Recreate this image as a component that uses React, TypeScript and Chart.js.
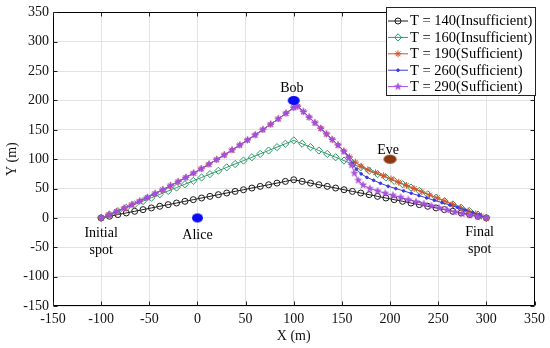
import React, { useEffect, useRef } from 'react';
import { Chart, registerables } from 'chart.js';
import { drawPoint } from 'chart.js/helpers';

Chart.register(...registerables);

// ---------------- data ----------------
const seriesLabels = [
  'T = 140(Insufficient)',
  'T = 160(Insufficient)',
  'T = 190(Sufficient)',
  'T = 260(Sufficient)',
  'T = 290(Sufficient)',
];

const t140X = [-100, -91.3, -82.6, -73.9, -65.2, -56.5, -47.8, -39.1, -30.4, -21.7, -13.0, -4.3, 4.3, 13.0, 21.7, 30.4, 39.1, 47.8, 56.5, 65.2, 73.9, 82.6, 91.3, 100,
  108.7, 117.4, 126.1, 134.8, 143.5, 152.2, 160.9, 169.6, 178.3, 187.0, 195.7, 204.3, 213.0, 221.7, 230.4, 239.1, 247.8, 256.5, 265.2, 273.9, 282.6, 291.3, 300];
const t140Y = [0, 2.8, 5.7, 8.5, 11.3, 14.1, 17.0, 19.8, 22.6, 25.4, 28.3, 31.1, 33.9, 36.7, 39.6, 42.4, 45.2, 48.0, 50.9, 53.7, 56.5, 59.3, 62.2, 65.0,
  62.2, 59.3, 56.5, 53.7, 50.9, 48.0, 45.2, 42.4, 39.6, 36.7, 33.9, 31.1, 28.3, 25.4, 22.6, 19.8, 17.0, 14.1, 11.3, 8.5, 5.7, 2.8, 0];

const t160X = [-100, -91.3, -82.6, -73.9, -65.2, -56.5, -47.8, -39.1, -30.4, -21.7, -13.0, -4.3, 4.3, 13.0, 21.7, 30.4, 39.1, 47.8, 56.5, 65.2, 73.9, 82.6, 91.3, 100,
  108.7, 117.4, 126.1, 134.8, 143.5, 152.2, 160.9, 169.6, 178.3, 187.0, 195.7, 204.3, 213.0, 221.7, 230.4, 239.1, 247.8, 256.5, 265.2, 273.9, 282.6, 291.3, 300];
const t160Y = [0, 5.7, 11.5, 17.2, 23.0, 28.7, 34.4, 40.2, 45.9, 51.7, 57.4, 63.1, 68.9, 74.6, 80.3, 86.1, 91.8, 97.6, 103.3, 109.0, 114.8, 120.5, 126.3, 132.0,
  126.3, 120.5, 114.8, 109.0, 103.3, 97.6, 91.8, 86.1, 80.3, 74.6, 68.9, 63.1, 57.4, 51.7, 45.9, 40.2, 34.4, 28.7, 23.0, 17.2, 11.5, 5.7, 0];

const t190X = [-100, -92, -84, -76, -68, -60, -52, -44, -36, -28, -20, -12, -4, 4, 12, 20, 28, 36, 44, 52, 60, 68, 76, 84, 92, 100, 104,
  110, 116, 122, 128, 134, 140, 146, 152, 158, 164, 170, 177, 185, 193, 201, 209, 217, 225, 233, 241, 249, 257, 265, 273, 281, 289, 295, 300];
const t190Y = [0, 5.4, 10.9, 16.6, 22.6, 28.6, 34.9, 41.4, 48.0, 54.8, 61.8, 68.9, 76.3, 83.8, 91.5, 99.4, 107.4, 115.7, 124.1, 132.7, 141.4, 150.4, 159.5, 168.8, 178.3, 188, 190,
  181, 171.5, 162, 152.5, 143, 133.5, 124, 114, 104, 95, 88, 82, 77, 72, 66.5, 61, 55.5, 50, 44.5, 39, 34, 28.5, 23, 17.5, 12, 7, 3.3, 0];

const t260X = [-100, -92, -84, -76, -68, -60, -52, -44, -36, -28, -20, -12, -4, 4, 12, 20, 28, 36, 44, 52, 60, 68, 76, 84, 92, 100, 104,
  110, 116, 122, 128, 134, 140, 146, 152, 157, 161, 165, 170, 176, 183, 190, 198, 206, 214, 222, 230, 238, 246, 254, 262, 270, 278, 286, 293, 300];
const t260Y = [0, 5.4, 10.9, 16.6, 22.6, 28.6, 34.9, 41.4, 48.0, 54.8, 61.8, 68.9, 76.3, 83.8, 91.5, 99.4, 107.4, 115.7, 124.1, 132.7, 141.4, 150.4, 159.5, 168.8, 178.3, 188, 190,
  181, 171.5, 162, 152.5, 143, 133.5, 124, 114, 104, 93, 83, 75, 69, 64, 59, 54, 50, 46, 42, 38, 34, 30, 26, 22, 18, 13.5, 9, 4.5, 0];

const t290X = [-100, -92, -84, -76, -68, -60, -52, -44, -36, -28, -20, -12, -4, 4, 12, 20, 28, 36, 44, 52, 60, 68, 76, 84, 92, 100, 104,
  110, 116, 122, 128, 134, 140, 146, 152, 157, 160, 163, 167, 172, 179, 187, 195, 203, 211, 219, 227, 235, 243, 251, 259, 267, 275, 283, 291, 300];
const t290Y = [0, 5.4, 10.9, 16.6, 22.6, 28.6, 34.9, 41.4, 48.0, 54.8, 61.8, 68.9, 76.3, 83.8, 91.5, 99.4, 107.4, 115.7, 124.1, 132.7, 141.4, 150.4, 159.5, 168.8, 178.3, 188, 190,
  181, 171.5, 162, 152.5, 143, 133.5, 124, 113, 102, 90, 76, 64, 56, 50, 46, 42, 38.5, 35, 31, 27.5, 24, 20.5, 17, 13.5, 10, 7, 4.5, 2, 0];

// nodes (Bob, Alice, Eve)
const nodeNames = ['Bob', 'Alice', 'Eve'];
const nodeX = [100, 0, 200];
const nodeY = [200, 0, 100];

// text notes in data coordinates
const noteTexts = ['Bob', 'Alice', 'Eve', 'Initial', 'spot', 'Final', 'spot'];
const noteX = [98, 0, 198, -100, -100, 293, 293];
const noteY = [220, -29, 115, -26.5, -55, -25, -54];

// ---------------- styles ----------------
const FONT = '"Liberation Serif", "Times New Roman", serif';
const colors = ['#1a1a1a', '#2f9a68', '#d4532a', '#3a3ae0', '#a650dc'];

const zip = (xs: number[], ys: number[]) => xs.map((x, i) => ({ x, y: ys[i] }));

function makeStar(color: string, r: number) {
  const s = Math.ceil(r * 2 + 2);
  const c = document.createElement('canvas');
  c.width = s; c.height = s;
  const g = c.getContext('2d')!;
  g.beginPath();
  for (let i = 0; i < 10; i++) {
    const rad = i % 2 === 0 ? r : r * 0.42;
    const a = -Math.PI / 2 + (i * Math.PI) / 5;
    g.lineTo(s / 2 + rad * Math.cos(a), s / 2 + rad * Math.sin(a));
  }
  g.closePath();
  g.fillStyle = color; g.fill();
  g.strokeStyle = color; g.lineWidth = 0.6; g.stroke();
  return c;
}

function makeEllipse(color: string, w: number, h: number) {
  const c = document.createElement('canvas');
  c.width = w + 2; c.height = h + 2;
  const g = c.getContext('2d')!;
  g.beginPath();
  g.ellipse((w + 2) / 2, (h + 2) / 2, w / 2, h / 2, 0, 0, Math.PI * 2);
  g.fillStyle = color; g.fill();
  return c;
}

export default function App() {
  const ref = useRef<HTMLCanvasElement | null>(null);

  useEffect(() => {
    if (!ref.current) return;
    const star = makeStar(colors[4], 3.6);
    const blueDot = makeEllipse('#0b0bf5', 12, 9);
    const aliceDot = makeEllipse('#0b0bf5', 11, 9);
    const eveDot = makeEllipse('#8a3a12', 13, 9);

    const markerStyles: any[] = [
      { pointStyle: 'circle', radius: 3, fill: 'rgba(0,0,0,0)' },
      { pointStyle: 'rectRot', radius: 3.6, fill: 'rgba(0,0,0,0)' },
      { pointStyle: 'star', radius: 3.4, fill: 'rgba(0,0,0,0)' },
      { pointStyle: 'circle', radius: 1.3, fill: colors[3] },
      { pointStyle: star, radius: 3.6, fill: colors[4] },
    ];
    const seriesData = [zip(t140X, t140Y), zip(t160X, t160Y), zip(t190X, t190Y), zip(t260X, t260Y), zip(t290X, t290Y)];

    const datasets: any[] = seriesData.map((d, i) => ({
      label: seriesLabels[i],
      data: d,
      showLine: true,
      borderColor: colors[i],
      backgroundColor: markerStyles[i].fill,
      borderWidth: 1,
      pointStyle: markerStyles[i].pointStyle,
      pointRadius: markerStyles[i].radius,
      pointBorderWidth: 1,
      pointBorderColor: colors[i],
      pointBackgroundColor: markerStyles[i].fill,
      order: 10 - i,
    }));
    datasets.push({
      label: 'nodes',
      data: zip(nodeX, nodeY),
      showLine: false,
      pointStyle: [blueDot, aliceDot, eveDot],
      pointRadius: 6,
      order: 0,
    });

    const overlay = {
      id: 'overlay',
      afterDatasetsDraw(chart: any) {
        const { ctx, chartArea: a, scales } = chart;
        const xs = scales.x, ys = scales.y;
        ctx.save();
        // frame
        const L = Math.round(a.left) + 0.5, R = Math.round(a.right) - 0.5;
        const T = Math.round(a.top) + 0.5, B = Math.round(a.bottom) - 0.5;
        ctx.strokeStyle = '#000';
        ctx.lineWidth = 1;
        ctx.beginPath();
        ctx.rect(L, T, R - L, B - T);
        ctx.stroke();
        // inward ticks
        ctx.strokeStyle = '#222';
        ctx.beginPath();
        xs.ticks.forEach((t: any) => {
          const px = Math.round(xs.getPixelForValue(t.value)) + 0.5;
          ctx.moveTo(px, B); ctx.lineTo(px, B - 4);
          ctx.moveTo(px, T); ctx.lineTo(px, T + 4);
        });
        ys.ticks.forEach((t: any) => {
          const py = Math.round(ys.getPixelForValue(t.value)) + 0.5;
          ctx.moveTo(L, py); ctx.lineTo(L + 4, py);
          ctx.moveTo(R, py); ctx.lineTo(R - 4, py);
        });
        ctx.stroke();

        // notes
        ctx.fillStyle = '#000';
        ctx.font = `14px ${FONT}`;
        ctx.textAlign = 'center';
        ctx.textBaseline = 'middle';
        noteTexts.forEach((txt, i) => {
          ctx.fillText(txt, xs.getPixelForValue(noteX[i]), ys.getPixelForValue(noteY[i]));
        });

        // legend
        const bx = 386.5, by = 7.5, bw = 149, bh = 88;
        ctx.fillStyle = '#fff';
        ctx.fillRect(bx, by, bw, bh);
        ctx.strokeStyle = '#222';
        ctx.strokeRect(bx, by, bw, bh);
        ctx.font = `14.5px ${FONT}`;
        ctx.textAlign = 'left';
        seriesLabels.forEach((lab, i) => {
          const cy = 21 + i * 16.4;
          ctx.strokeStyle = colors[i];
          ctx.lineWidth = 1;
          ctx.beginPath();
          ctx.moveTo(388, cy); ctx.lineTo(408, cy);
          ctx.stroke();
          ctx.fillStyle = markerStyles[i].fill;
          drawPoint(ctx, { pointStyle: markerStyles[i].pointStyle, radius: markerStyles[i].radius, rotation: 0, borderWidth: 1 } as any, 398, cy);
          ctx.fillStyle = '#000';
          ctx.fillText(lab, 410, cy + 0.5);
        });
        ctx.restore();
      },
    };

    const chart = new Chart(ref.current, {
      type: 'scatter',
      data: { datasets },
      options: {
        animation: false,
        responsive: false,
        devicePixelRatio: 1,
        layout: { padding: { top: 12, right: 13, left: 0, bottom: 0 } },
        plugins: { legend: { display: false }, tooltip: { enabled: false } },
        scales: {
          x: {
            type: 'linear',
            min: -150,
            max: 350,
            ticks: { stepSize: 50, color: '#111', font: { family: FONT, size: 14 }, padding: 5 },
            grid: { color: '#e3e3e3', drawTicks: false },
            border: { display: false },
            title: { display: true, text: 'X (m)', color: '#111', font: { family: FONT, size: 14 }, padding: { top: 0, bottom: 3 } },
            afterFit: (s: any) => { s.height = 42; },
          },
          y: {
            type: 'linear',
            min: -150,
            max: 350,
            ticks: { stepSize: 50, color: '#111', font: { family: FONT, size: 14 }, padding: 4 },
            grid: { color: '#e3e3e3', drawTicks: false },
            border: { display: false },
            title: { display: true, text: 'Y (m)', color: '#111', font: { family: FONT, size: 14 }, padding: { top: 4, bottom: 0 } },
            afterFit: (s: any) => { s.width = 53; },
          },
        },
      },
      plugins: [overlay],
    });
    return () => chart.destroy();
  }, []);

  return (
    <div style={{ position: 'fixed', left: 0, top: 0, width: 550, height: 348, background: '#fff' }}>
      <canvas ref={ref} width={550} height={348} style={{ display: 'block' }} />
    </div>
  );
}
